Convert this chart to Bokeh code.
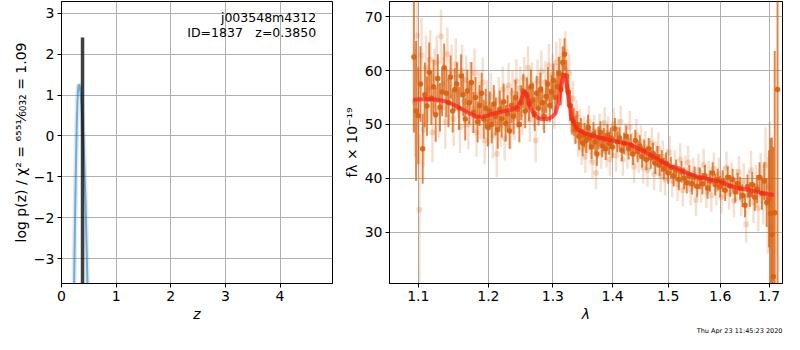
from bokeh.plotting import figure
from bokeh.layouts import row
from bokeh.models import ColumnDataSource, FixedTicker, PrintfTickFormatter, Label, Range1d, Title
from bokeh.embed import file_html
from bokeh.resources import INLINE

# ---------------- data ----------------
# p(z) panel
pz_z = [0.230, 0.240, 0.250, 0.260, 0.270, 0.280, 0.290, 0.300, 0.310, 0.320,
        0.330, 0.345, 0.360, 0.380, 0.400, 0.420, 0.440, 0.460, 0.480]
pz_logp = [-3.7, -2.7, -1.85, -1.05, -0.3, 0.35, 0.8, 1.08, 1.22, 1.26,
           1.24, 1.1, 0.85, 0.45, -0.05, -0.75, -1.65, -2.75, -3.9]
z_best = 0.385
z_best_top = 2.41
z_best_bottom = -4.0

obj_name = "j003548m4312"
obj_info = "ID=1837\u2003z=0.3850"
timestamp = "Thu Apr 23 11:45:23 2020"

# spectrum panel: dark (higher S/N) points
dark_wave = [1.094, 1.097, 1.100, 1.103, 1.106, 1.109, 1.112, 1.115, 1.118, 1.121,
             1.124, 1.127, 1.130, 1.133, 1.136, 1.139, 1.142, 1.145, 1.148, 1.151,
             1.154, 1.157, 1.160, 1.163, 1.166, 1.169, 1.172, 1.175, 1.178, 1.181,
             1.184, 1.187, 1.190, 1.193, 1.196, 1.199, 1.202, 1.205, 1.208, 1.211,
             1.214, 1.217, 1.220, 1.223, 1.226, 1.229, 1.232, 1.235, 1.238, 1.241,
             1.244, 1.247, 1.250, 1.253, 1.256, 1.259, 1.262, 1.265, 1.268, 1.271,
             1.274, 1.277, 1.280, 1.283, 1.286, 1.289, 1.292, 1.295, 1.298, 1.301,
             1.304, 1.307, 1.310, 1.313, 1.316, 1.319, 1.322, 1.325, 1.328, 1.331,
             1.334, 1.337, 1.340, 1.343, 1.346, 1.349, 1.352, 1.355, 1.358, 1.361,
             1.364, 1.367, 1.370, 1.373, 1.376, 1.379, 1.382, 1.385, 1.388, 1.391,
             1.394, 1.397, 1.400, 1.404, 1.408, 1.412, 1.416, 1.420, 1.424, 1.428,
             1.432, 1.436, 1.440, 1.444, 1.448, 1.452, 1.456, 1.460, 1.464, 1.468,
             1.472, 1.476, 1.480, 1.484, 1.488, 1.492, 1.496, 1.500, 1.505, 1.510,
             1.515, 1.520, 1.525, 1.530, 1.535, 1.540, 1.545, 1.550, 1.555, 1.560,
             1.565, 1.570, 1.575, 1.580, 1.585, 1.590, 1.595, 1.600, 1.605, 1.610,
             1.615, 1.620, 1.625, 1.630, 1.635, 1.640, 1.645, 1.650, 1.655, 1.660,
             1.665, 1.670, 1.675, 1.680, 1.685, 1.690, 1.695, 1.700, 1.703, 1.706,
             1.709, 1.712, 1.718]
dark_flux = [62.5, 52.5, 51.6, 57.5, 45.5, 55.5, 53.4, 59.7, 54.9, 57.0,
             51.8, 58.5, 53.2, 56.0, 60.5, 55.8, 54.0, 58.8, 52.5, 56.5,
             57.5, 53.0, 59.0, 55.5, 51.0, 56.2, 54.0, 57.8, 52.2, 55.0,
             50.5, 53.5, 55.8, 51.0, 53.0, 49.5, 52.5, 50.0, 53.8, 51.5,
             49.0, 52.8, 51.0, 54.2, 50.2, 52.0, 48.8, 53.5, 51.5, 55.0,
             52.8, 50.0, 54.0, 56.2, 52.5, 55.5, 53.8, 57.0, 54.5, 52.0,
             55.8, 53.0, 56.5, 54.0, 51.5, 55.2, 57.5, 53.5, 56.0, 58.2,
             55.0, 57.0, 59.5, 56.5, 61.5, 63.0, 59.0, 56.0, 53.5, 51.0,
             50.5, 49.0, 50.0, 47.8, 48.8, 46.5, 48.0, 47.0, 49.5, 47.5,
             45.8, 48.2, 46.8, 44.5, 47.5, 48.5, 46.0, 47.2, 45.5, 48.0,
             46.5, 47.5, 45.8, 49.2, 46.8, 47.5, 45.2, 46.5, 47.8, 45.5,
             46.2, 44.5, 47.0, 45.0, 46.0, 44.0, 45.2, 43.5, 45.5, 43.8,
             44.6, 42.8, 44.0, 42.5, 43.2, 41.8, 42.8, 41.0, 42.0, 40.5,
             41.5, 39.8, 41.2, 40.0, 39.2, 40.5, 39.0, 40.2, 38.5, 40.0,
             39.0, 40.5, 38.2, 39.5, 41.0, 38.8, 39.8, 38.5, 39.5, 37.8,
             40.2, 38.6, 39.8, 37.5, 39.0, 38.2, 36.8, 35.0, 38.5, 37.0,
             38.8, 36.5, 38.0, 40.2, 37.2, 39.5, 35.5, 36.2, 33.5, 29.6,
             21.8, 33.6, 56.5]
dark_err = [14, 13, 9, 7, 6.5, 6, 5.5, 5.5, 5, 5,
            5, 4.5, 4.5, 4.5, 4.5, 4.5, 4.5, 4, 4, 4,
            4, 4, 4, 4, 4, 4, 4, 3.8, 3.8, 3.8,
            3.8, 3.8, 3.8, 3.6, 3.6, 3.6, 3.6, 3.5, 3.5, 3.5,
            3.5, 3.5, 3.4, 3.4, 3.4, 3.4, 3.3, 3.3, 3.3, 3.3,
            3.3, 3.3, 3.2, 3.2, 3.2, 3.2, 3.2, 3.2, 3.2, 3.2,
            3.2, 3.2, 3.1, 3.1, 3.1, 3.1, 3.1, 3.1, 3.1, 3.1,
            3.1, 3.0, 3.0, 3.0, 3.0, 3.0, 3.0, 2.8, 2.8, 2.8,
            2.6, 2.6, 2.5, 2.5, 2.4, 2.4, 2.3, 2.3, 2.3, 2.2,
            2.2, 2.2, 2.2, 2.2, 2.1, 2.1, 2.1, 2.1, 2.1, 2.1,
            2.1, 2.0, 2.0, 2.0, 2.0, 2.0, 2.0, 2.0, 2.0, 2.0,
            2.0, 2.0, 2.0, 2.0, 2.0, 2.0, 2.0, 2.0, 2.0, 2.0,
            2.0, 2.0, 2.0, 2.0, 2.0, 2.0, 2.0, 2.0, 2.0, 2.0,
            2.0, 2.0, 2.0, 2.0, 2.0, 2.0, 2.0, 2.0, 2.0, 2.0,
            2.0, 2.0, 2.0, 2.0, 2.0, 2.0, 2.0, 2.0, 2.0, 2.0,
            2.0, 2.0, 2.0, 2.0, 2.0, 2.1, 2.1, 2.2, 2.2, 2.3,
            2.4, 2.5, 2.6, 2.8, 3.0, 3.5, 4.5, 9, 14, 18,
            24, 30, 40]

# spectrum panel: light (lower S/N) points
light_wave = [1.0955, 1.0985, 1.1015, 1.1045, 1.1075, 1.1105, 1.1135, 1.1165, 1.1195, 1.1225,
              1.1255, 1.1285, 1.1315, 1.1345, 1.1375, 1.1405, 1.1435, 1.1465, 1.1495, 1.1525,
              1.1555, 1.1585, 1.1615, 1.1645, 1.1675, 1.1705, 1.1735, 1.1765, 1.1795, 1.1825,
              1.1855, 1.1885, 1.1915, 1.1945, 1.1975, 1.2005, 1.2035, 1.2065, 1.2095, 1.2125,
              1.2155, 1.2185, 1.2215, 1.2245, 1.2275, 1.2305, 1.2335, 1.2365, 1.2395, 1.2425,
              1.2455, 1.2485, 1.2515, 1.2545, 1.2575, 1.2605, 1.2635, 1.2665, 1.2695, 1.2725,
              1.2755, 1.2785, 1.2815, 1.2845, 1.2875, 1.2905, 1.2935, 1.2965, 1.2995, 1.3025,
              1.3055, 1.3085, 1.3115, 1.3145, 1.3175, 1.3205, 1.3235, 1.3265, 1.3295, 1.3325,
              1.3355, 1.3385, 1.3415, 1.3445, 1.3475, 1.3505, 1.3535, 1.3565, 1.3595, 1.3625,
              1.3655, 1.3685, 1.3715, 1.3745, 1.3775, 1.3805, 1.3835, 1.3865, 1.3895, 1.3925,
              1.3955, 1.3985, 1.4020, 1.4060, 1.4100, 1.4140, 1.4180, 1.4220, 1.4260, 1.4300,
              1.4340, 1.4380, 1.4420, 1.4460, 1.4500, 1.4540, 1.4580, 1.4620, 1.4660, 1.4700,
              1.4740, 1.4780, 1.4820, 1.4860, 1.4900, 1.4940, 1.4980, 1.5025, 1.5075, 1.5125,
              1.5175, 1.5225, 1.5275, 1.5325, 1.5375, 1.5425, 1.5475, 1.5525, 1.5575, 1.5625,
              1.5675, 1.5725, 1.5775, 1.5825, 1.5875, 1.5925, 1.5975, 1.6025, 1.6075, 1.6125,
              1.6175, 1.6225, 1.6275, 1.6325, 1.6375, 1.6425, 1.6475, 1.6525, 1.6575, 1.6625,
              1.6675, 1.6725, 1.6775, 1.6825, 1.6875, 1.6925, 1.6975, 1.7015, 1.7055]
light_flux = [54.0, 66.5, 34.2, 62.8, 49.0, 60.5, 56.5, 62.0, 48.5, 58.5,
              61.5, 52.5, 66.3, 57.5, 50.5, 63.0, 55.0, 59.8, 51.0, 61.2,
              56.0, 49.5, 60.0, 54.2, 58.2, 50.0, 57.0, 53.0, 59.5, 48.5,
              55.5, 51.8, 57.8, 47.0, 53.8, 50.5, 55.2, 48.0, 52.2, 44.5,
              54.5, 50.0, 56.5, 47.5, 53.0, 57.2, 49.5, 55.8, 51.2, 58.0,
              53.2, 56.8, 52.0, 58.5, 54.5, 60.5, 50.8, 57.5, 53.5, 47.0,
              58.0, 55.0, 59.8, 52.8, 57.8, 54.2, 61.0, 56.5, 59.2, 53.0,
              61.5, 57.5, 62.2, 58.0, 60.5, 63.5, 57.0, 59.5, 52.0, 54.8,
              49.5, 51.5, 47.0, 49.8, 45.5, 48.5, 44.0, 47.5, 50.5, 46.0,
              43.0, 48.8, 41.0, 46.5, 49.0, 44.8, 47.8, 50.2, 45.0, 48.5,
              43.5, 47.0, 50.0, 44.2, 48.0, 50.5, 43.5, 47.2, 44.8, 49.5,
              45.5, 42.2, 48.0, 44.0, 46.8, 42.0, 45.8, 41.5, 44.5, 46.5,
              40.8, 43.8, 45.5, 40.5, 44.0, 39.8, 42.5, 44.8, 39.5, 42.2,
              38.8, 43.5, 37.8, 41.2, 43.0, 38.0, 40.8, 36.0, 41.5, 38.5,
              42.5, 37.5, 40.2, 36.8, 41.8, 38.0, 40.8, 36.5, 39.2, 42.0,
              37.2, 40.0, 35.8, 38.8, 41.2, 36.2, 39.5, 31.5, 37.8, 41.5,
              35.5, 38.5, 34.5, 40.0, 37.0, 42.5, 35.0, 38.5, 31.0]
light_err = [10, 9, 14, 7, 7, 6, 6, 5.5, 5.5, 5.5,
             5, 5, 5, 5, 5, 5, 5, 5, 5, 4.8,
             4.8, 4.8, 4.8, 4.8, 4.6, 4.6, 4.6, 4.6, 4.6, 4.5,
             4.5, 4.5, 4.5, 4.4, 4.4, 4.4, 4.4, 4.3, 4.3, 4.3,
             4.3, 4.2, 4.2, 4.2, 4.2, 4.2, 4.1, 4.1, 4.1, 4.1,
             4.0, 4.0, 4.0, 4.0, 4.0, 4.0, 4.0, 4.0, 4.0, 4.0,
             4.0, 4.0, 3.9, 3.9, 3.9, 3.9, 3.9, 3.9, 3.9, 3.8,
             3.8, 3.8, 3.8, 3.8, 3.8, 3.8, 3.6, 3.6, 3.4, 3.3,
             3.2, 3.1, 3.0, 3.0, 3.0, 3.0, 3.0, 3.0, 3.0, 3.0,
             3.0, 3.0, 3.0, 3.0, 3.0, 3.0, 3.0, 3.0, 3.0, 3.0,
             3.0, 3.0, 3.0, 3.0, 3.0, 3.0, 3.0, 3.0, 3.0, 3.0,
             3.0, 3.0, 3.0, 3.0, 3.0, 3.0, 3.0, 3.0, 3.0, 3.0,
             3.0, 3.0, 3.0, 3.0, 3.0, 3.0, 3.0, 3.0, 3.0, 3.0,
             3.0, 3.0, 3.0, 3.0, 3.0, 3.0, 3.0, 3.0, 3.0, 3.0,
             3.0, 3.0, 3.0, 3.0, 3.0, 3.0, 3.0, 3.0, 3.0, 3.0,
             3.0, 3.0, 3.0, 3.0, 3.0, 3.2, 3.3, 3.4, 3.5, 3.6,
             3.8, 4.0, 4.3, 4.7, 5.5, 7, 9, 12, 15]

# best-fit model
model_wave = [1.093, 1.110, 1.127, 1.140, 1.155, 1.170, 1.182, 1.195, 1.210, 1.225,
              1.238, 1.246, 1.251, 1.255, 1.259, 1.264, 1.270, 1.276, 1.282, 1.290,
              1.298, 1.304, 1.309, 1.314, 1.318, 1.322, 1.326, 1.330, 1.336, 1.344,
              1.352, 1.365, 1.385, 1.405, 1.430, 1.450, 1.470, 1.490, 1.505, 1.518,
              1.535, 1.560, 1.580, 1.598, 1.620, 1.640, 1.656, 1.680, 1.697, 1.710]
model_flux = [54.6, 54.7, 54.6, 54.2, 53.3, 52.2, 51.4, 51.5, 52.1, 52.5,
              52.8, 53.5, 55.0, 56.2, 55.3, 53.2, 51.8, 51.2, 51.0, 51.0,
              51.3, 52.0, 54.0, 57.5, 59.5, 57.8, 54.5, 51.5, 49.7, 48.8,
              48.4, 47.9, 47.4, 46.9, 46.3, 45.3, 44.2, 43.0, 42.2, 41.9,
              41.0, 40.2, 39.8, 39.4, 38.6, 38.1, 37.9, 37.4, 37.1, 36.9]

z_ticks = [0, 1, 2, 3, 4]
logp_ticks = [-3, -2, -1, 0, 1, 2, 3]
wave_ticks = [1.1, 1.2, 1.3, 1.4, 1.5, 1.6, 1.7]
flux_ticks = [30, 40, 50, 60, 70]

# ---------------- styling helpers ----------------
FONT = "DejaVu Sans"
SPEC_COLOR = "#d8600e"


def style(p):
    p.background_fill_color = "white"
    p.border_fill_color = "white"
    p.outline_line_color = "black"
    p.outline_line_alpha = 1.0
    p.outline_line_width = 1
    p.grid.grid_line_color = "#b0b0b0"
    p.grid.grid_line_alpha = 1.0
    p.grid.grid_line_width = 1
    for ax in p.axis:
        ax.axis_line_color = "black"
        ax.major_tick_line_color = "black"
        ax.major_tick_out = 4
        ax.major_tick_in = 0
        ax.minor_tick_line_color = None
        ax.major_label_text_font = FONT
        ax.major_label_text_font_size = "14px"
        ax.major_label_text_color = "black"
        ax.axis_label_text_font = FONT
        ax.axis_label_text_font_size = "14px"
        ax.axis_label_text_color = "black"
        ax.axis_label_text_font_style = "normal"
        ax.axis_label_standoff = 2
        ax.major_label_standoff = 3


# ---------------- left panel: p(z) ----------------
p1 = figure(width=340, height=334, x_range=Range1d(0, 4.96), y_range=Range1d(-3.61, 3.29),
            output_backend="svg", toolbar_location=None,
            min_border_left=61, min_border_right=8, min_border_top=1, min_border_bottom=30)
style(p1)
p1.xaxis.ticker = FixedTicker(ticks=z_ticks)
p1.xgrid.ticker = FixedTicker(ticks=z_ticks)
p1.yaxis.ticker = FixedTicker(ticks=logp_ticks)
p1.ygrid.ticker = FixedTicker(ticks=logp_ticks)
p1.yaxis.major_label_overrides = {t: ("\u2212" + str(abs(t)) if t < 0 else str(t)) for t in logp_ticks}
p1.xaxis.axis_label = "z"
p1.xaxis.axis_label_text_font_style = "italic"
p1.yaxis.axis_label = "log p(z) / \u03c7\u00b2 = \u2076\u2075\u2075\u00b9\u2044\u2086\u2080\u2083\u2082 = 1.09"

p1.line(pz_z, pz_logp, line_color="#1f77b4", line_width=5, line_alpha=0.15)
p1.line(pz_z, pz_logp, line_color="#1f77b4", line_width=2, line_alpha=0.55)
p1.segment(x0=[z_best], y0=[z_best_bottom], x1=[z_best], y1=[z_best_top],
           line_color="black", line_width=3.5, line_alpha=0.75)

p1.add_layout(Label(x=4.66, y=2.9, text=obj_name, text_align="right", text_baseline="middle",
                    text_font=FONT, text_font_size="12.5px", text_color="black"))
p1.add_layout(Label(x=4.66, y=2.53, text=obj_info, text_align="right", text_baseline="middle",
                    text_font=FONT, text_font_size="12.5px", text_color="black"))

# ---------------- right panel: spectrum ----------------
p2 = figure(width=444, height=334, x_axis_type="log", x_range=Range1d(1.0614, 1.7286),
            y_range=Range1d(20.5, 72.8), output_backend="svg", toolbar_location=None,
            min_border_left=46, min_border_right=2, min_border_top=1, min_border_bottom=30)
style(p2)
p2.xaxis.ticker = FixedTicker(ticks=wave_ticks)
p2.xgrid.ticker = FixedTicker(ticks=wave_ticks)
p2.xaxis.formatter = PrintfTickFormatter(format="%.1f")
p2.yaxis.ticker = FixedTicker(ticks=flux_ticks)
p2.ygrid.ticker = FixedTicker(ticks=flux_ticks)
p2.xaxis.axis_label = "\u03bb"
p2.xaxis.axis_label_text_font_style = "italic"
p2.yaxis.axis_label = "f\u03bb \u00d7 10\u207b\u00b9\u2079"

light_src = ColumnDataSource(dict(
    w=light_wave, f=light_flux,
    lo=[f - e for f, e in zip(light_flux, light_err)],
    hi=[f + e for f, e in zip(light_flux, light_err)]))
dark_src = ColumnDataSource(dict(
    w=dark_wave, f=dark_flux,
    lo=[f - e for f, e in zip(dark_flux, dark_err)],
    hi=[f + e for f, e in zip(dark_flux, dark_err)]))

p2.segment(x0="w", y0="lo", x1="w", y1="hi", source=light_src,
           line_color=SPEC_COLOR, line_width=2.5, line_alpha=0.2)
p2.scatter(x="w", y="f", source=light_src, size=6, fill_color=SPEC_COLOR, fill_alpha=0.22,
           line_color=None)
p2.segment(x0="w", y0="lo", x1="w", y1="hi", source=dark_src,
           line_color=SPEC_COLOR, line_width=2, line_alpha=0.75)
p2.scatter(x="w", y="f", source=dark_src, size=5.5, fill_color=SPEC_COLOR, fill_alpha=0.9,
           line_color=None)
p2.line(model_wave, model_flux, line_color="#ff1a1a", line_width=4, line_alpha=0.7)

p2.add_layout(Title(text=timestamp, align="right", text_font=FONT, text_font_size="6.5px",
                    text_font_style="normal", text_color="black", standoff=0), "below")

layout = row(p1, p2)
open("out.html", "w").write(file_html(layout, INLINE))
